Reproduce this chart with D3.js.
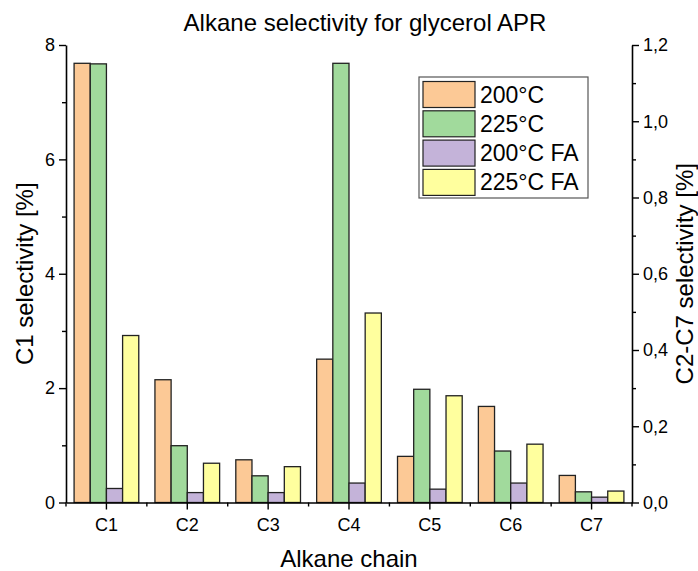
<!DOCTYPE html>
<html>
<head>
<meta charset="utf-8">
<script src="https://cdn.jsdelivr.net/npm/d3@7"></script>
<style>
  html, body { margin: 0; padding: 0; background: #fff; }
  svg { display: block; font-family: "Liberation Sans", Arial, sans-serif; }
</style>
</head>
<body>
<svg id="chart" width="698" height="571"></svg>
<script>
// ---- data ----
const categories = ["C1", "C2", "C3", "C4", "C5", "C6", "C7"];
const seriesNames = ["200°C", "225°C", "200°C FA", "225°C FA"];
// C1 values are on the left axis (C1 selectivity %), C2–C7 on the right axis (C2-C7 selectivity %)
const sel200 = [7.68, 0.322, 0.112, 0.376, 0.121, 0.252, 0.071];
const sel225 = [7.67, 0.149, 0.070, 1.152, 0.297, 0.135, 0.028];
const sel200FA = [0.245, 0.026, 0.026, 0.051, 0.035, 0.051, 0.014];
const sel225FA = [2.92, 0.103, 0.094, 0.497, 0.280, 0.153, 0.030];
const leftTicks = [0, 2, 4, 6, 8];
const leftMinorTicks = [1, 3, 5, 7];
const rightTicks = [0, 0.2, 0.4, 0.6, 0.8, 1.0, 1.2];
const rightMinorTicks = [0.1, 0.3, 0.5, 0.7, 0.9, 1.1];
const colors = ["#FCC996", "#A1DA9C", "#C4B3D9", "#FFFF9E"];

const seriesValues = [sel200, sel225, sel200FA, sel225FA];

// ---- layout ----
const FONT = "'Liberation Sans', Arial, sans-serif";
const svg = d3.select("#chart");
const L = 66, R = 632, T = 45, B = 502.5;

const x = d3.scaleBand().domain(categories).range([L, R]).paddingInner(0.2).paddingOuter(0.1);
const xs = d3.scaleBand().domain(seriesNames).range([0, x.bandwidth()]).padding(0);
const yL = d3.scaleLinear().domain([0, 8]).range([B, T]);
const yR = d3.scaleLinear().domain([0, 1.2]).range([B, T]);

// bars
const barData = [];
seriesNames.forEach((s, si) => {
  categories.forEach((c, ci) => {
    barData.push({ s, si, c, ci, v: seriesValues[si][ci] });
  });
});
svg.append("g").selectAll("rect").data(barData).join("rect")
  .attr("x", d => x(d.c) + xs(d.s))
  .attr("width", xs.bandwidth())
  .attr("y", d => (d.ci === 0 ? yL(d.v) : yR(d.v)))
  .attr("height", d => B - (d.ci === 0 ? yL(d.v) : yR(d.v)))
  .attr("fill", d => colors[d.si])
  .attr("stroke", "#222")
  .attr("stroke-width", 1.3);

// axes
const tickFont = "18px";
function styleAxis(g) {
  g.selectAll(".domain").attr("stroke", "#000").attr("stroke-width", 1.6);
  g.selectAll(".tick line").attr("stroke", "#000").attr("stroke-width", 1.4);
  g.selectAll(".tick text").attr("fill", "#000").style("font-size", tickFont)
    .style("font-family", FONT);
}

// left
svg.append("g").attr("transform", `translate(${L},0)`)
  .call(d3.axisLeft(yL).tickValues(leftMinorTicks).tickSize(4).tickFormat(""))
  .call(g => g.select(".domain").remove())
  .call(styleAxis);
svg.append("g").attr("transform", `translate(${L},0)`)
  .call(d3.axisLeft(yL).tickValues(leftTicks).tickSize(7).tickSizeOuter(0).tickPadding(4).tickFormat(d3.format("d")))
  .call(styleAxis);

// right
const commaFmt = d => d3.format(".1f")(d).replace(".", ",");
svg.append("g").attr("transform", `translate(${R},0)`)
  .call(d3.axisRight(yR).tickValues(rightMinorTicks).tickSize(4).tickFormat(""))
  .call(g => g.select(".domain").remove())
  .call(styleAxis);
svg.append("g").attr("transform", `translate(${R},0)`)
  .call(d3.axisRight(yR).tickValues(rightTicks).tickSize(7).tickSizeOuter(0).tickPadding(4).tickFormat(commaFmt))
  .call(styleAxis);

// bottom
const xMinor = d3.range(categories.length + 1).map(i => L + i * x.step());
svg.append("g").selectAll("line").data(xMinor).join("line")
  .attr("x1", d => d).attr("x2", d => d)
  .attr("y1", B).attr("y2", B + 4)
  .attr("stroke", "#000").attr("stroke-width", 1.4);
svg.append("g").attr("transform", `translate(0,${B})`)
  .call(d3.axisBottom(x).tickSize(7).tickSizeOuter(0).tickPadding(9))
  .call(styleAxis);

// titles
const titleStyle = sel => sel.style("font-size", "24px").style("font-family", FONT).attr("fill", "#000");
svg.append("text").attr("x", 365).attr("y", 31).attr("text-anchor", "middle")
  .call(titleStyle).text("Alkane selectivity for glycerol APR");
svg.append("text").attr("x", 349).attr("y", 567).attr("text-anchor", "middle")
  .call(titleStyle).text("Alkane chain");
svg.append("text").attr("transform", `translate(33,${(T + B) / 2}) rotate(-90)`)
  .attr("text-anchor", "middle").call(titleStyle).text("C1 selectivity [%]");
svg.append("text").attr("transform", `translate(693,${(T + B) / 2}) rotate(-90)`)
  .attr("text-anchor", "middle").call(titleStyle).text("C2-C7 selectivity [%]");

// legend
const lg = svg.append("g").attr("transform", "translate(419,77)");
lg.append("rect").attr("x", 0).attr("y", 0).attr("width", 169).attr("height", 121)
  .attr("fill", "#fff").attr("stroke", "#555").attr("stroke-width", 1.2);
const items = lg.selectAll("g.item").data(seriesNames).join("g")
  .attr("transform", (d, i) => `translate(4,${4.5 + i * 29.3})`);
items.append("rect").attr("width", 52).attr("height", 26)
  .attr("fill", (d, i) => colors[i]).attr("stroke", "#222").attr("stroke-width", 1.2);
items.append("text").attr("x", 57).attr("y", 21).style("font-size", "23px")
  .style("font-family", FONT).attr("fill", "#000").text(d => d);
</script>
</body>
</html>
